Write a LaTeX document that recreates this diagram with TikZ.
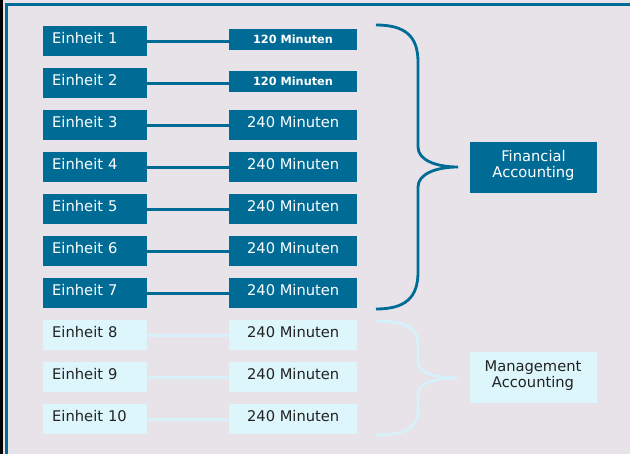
\documentclass[tikz,border=0pt]{standalone}
\usepackage{fontspec}
\setmainfont{DejaVu Sans}
\definecolor{bg}{HTML}{E7E3E8}
\definecolor{teal}{HTML}{006C96}
\definecolor{lightbox}{HTML}{DDF6FC}
\definecolor{lightline}{HTML}{D6F1F9}
\definecolor{darktext}{HTML}{222222}
\tikzset{
  every node/.style={font=\fontsize{14.7}{16}\selectfont},
  unitdark/.style={fill=teal, text=white, text width=86pt, inner xsep=9pt, inner ysep=0pt, minimum height=30pt, text depth=6.5pt, align=left, anchor=north west},
  unitlight/.style={unitdark, fill=lightbox, text=darktext},
  mindark/.style={fill=teal, text=white, minimum width=128pt, minimum height=30pt, inner sep=0pt, text depth=6.5pt, anchor=north west},
  minlight/.style={mindark, fill=lightbox, text=darktext},
  minsmall/.style={fill=teal, text=white, minimum width=128pt, minimum height=21pt, inner sep=0pt, text depth=1pt, font=\fontsize{11.3}{12}\selectfont\bfseries},
  linkdark/.style={draw=teal, line width=2.8pt},
  linklight/.style={draw=lightline, line width=2.8pt},
  bracedark/.style={draw=teal, line width=2.8pt},
  bracelight/.style={draw=lightline, line width=2.8pt},
  groupdark/.style={fill=teal, text=white, minimum width=127pt, minimum height=51pt, inner sep=0pt, text depth=7pt, align=center},
  grouplight/.style={groupdark, fill=lightbox, text=darktext},
}
\begin{document}
\begin{tikzpicture}[x=1pt,y=-1pt]
\useasboundingbox (0,0) rectangle (630,454);
\fill[bg] (0,0) rectangle (630,454);
% frame
\fill[black] (0,0) rectangle (3,454);
\fill[teal] (5,3) rectangle (8,454);
\fill[teal] (5,3) rectangle (630,6);
% units
\foreach \i in {1,...,7} {
  \node[unitdark] (u\i) at (43,{26+42*(\i-1)}) {Einheit \i};
}
\foreach \i in {8,9,10} {
  \node[unitlight] (u\i) at (43,{26+42*(\i-1)}) {Einheit \i};
}
% minutes
\node[minsmall] (m1) at (293,40) {120 Minuten};
\node[minsmall] (m2) at (293,82) {120 Minuten};
\foreach \i in {3,...,7} {
  \node[mindark] (m\i) at (229,{26+42*(\i-1)}) {240 Minuten};
}
\foreach \i in {8,9,10} {
  \node[minlight] (m\i) at (229,{26+42*(\i-1)}) {240 Minuten};
}
% connectors
\draw[linkdark] (u1.east) -- (u1.east -| m1.west);
\draw[linkdark] (u2.east) -- (u2.east -| m2.west);
\foreach \i in {3,...,7} { \draw[linkdark] (u\i) -- (m\i); }
\foreach \i in {8,9,10} { \draw[linklight] (u\i) -- (m\i); }
% braces
\coordinate (fa1) at (376,25);
\coordinate (fa2) at (376,309);
\coordinate (fatip) at (458,167);
\draw[bracedark] (fa1) .. controls (405,25) and (418,36) .. (418,62) -- (418,147)
  .. controls (418,160) and (436,167) .. (fatip)
  .. controls (436,167) and (418,174) .. (418,187) -- (418,272)
  .. controls (418,298) and (405,309) .. (fa2);
\coordinate (ma1) at (376,321);
\coordinate (ma2) at (376,435);
\coordinate (matip) at (458,378);
\draw[bracelight] (ma1) .. controls (405,321) and (418,327) .. (418,345) -- (418,362)
  .. controls (418,373) and (436,378) .. (matip)
  .. controls (436,378) and (418,383) .. (418,394) -- (418,410)
  .. controls (418,428) and (405,435) .. (ma2);
% group boxes
\node[groupdark] (fin) at (533.5,167.5) {Financial\\Accounting};
\node[grouplight] (man) at (533,378) {Management\\Accounting};
\end{tikzpicture}
\end{document}
